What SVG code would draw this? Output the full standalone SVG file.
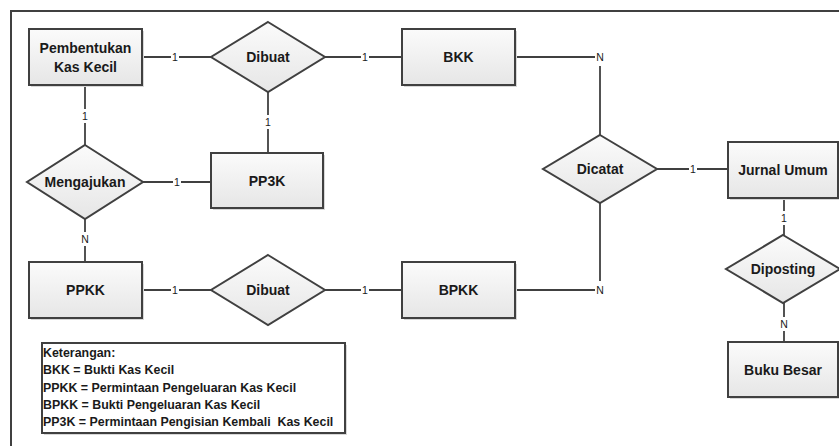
<svg xmlns="http://www.w3.org/2000/svg" width="839" height="446" viewBox="0 0 839 446">
  <defs>
    <linearGradient id="fillGrad" x1="0" y1="0" x2="0" y2="1">
      <stop offset="0" stop-color="#fbfbfb"/>
      <stop offset="1" stop-color="#e6e6e6"/>
    </linearGradient>
    <style>
      .ent { fill: url(#fillGrad); stroke: #404040; stroke-width: 2; }
      .rel { fill: url(#fillGrad); stroke: #404040; stroke-width: 2; stroke-linejoin: miter; }
      .shadow { fill: #d8d8d8; stroke: none; }
      .lbl { font-family: "Liberation Sans", Arial, sans-serif; font-weight: bold; font-size: 14px; fill: #1a1a1a; text-anchor: middle; }
      .conn { fill: none; stroke: #404040; stroke-width: 1.8; }
      .gap { fill: #ffffff; stroke: none; }
      .card { font-family: "Liberation Sans", Arial, sans-serif; font-size: 10.5px; fill: #1a1a1a; text-anchor: middle; }
      .legend { font-family: "Liberation Sans", Arial, sans-serif; font-weight: bold; font-size: 12.4px; fill: #1a1a1a; white-space: pre; }
    </style>
  </defs>

  <rect width="839" height="446" fill="#ffffff"/>

  <!-- outer frame -->
  <rect x="11" y="11" width="850" height="460" fill="none" stroke="#404040" stroke-width="2"/>

  <!-- connectors -->
  <g id="connectors">
    <line class="conn" x1="142" y1="57" x2="211" y2="57"/>
    <line class="conn" x1="325" y1="57" x2="402" y2="57"/>
    <polyline class="conn" points="515,57 600,57 600,135"/>
    <line class="conn" x1="657" y1="169" x2="728" y2="169"/>
    <line class="conn" x1="784" y1="198" x2="784" y2="235"/>
    <line class="conn" x1="784" y1="303" x2="784" y2="342"/>
    <polyline class="conn" points="515,290 600,290 600,203"/>
    <line class="conn" x1="142" y1="290" x2="211" y2="290"/>
    <line class="conn" x1="325" y1="290" x2="402" y2="290"/>
    <line class="conn" x1="85" y1="85" x2="85" y2="145"/>
    <line class="conn" x1="85" y1="219" x2="85" y2="262"/>
    <line class="conn" x1="143" y1="182" x2="211" y2="182"/>
    <line class="conn" x1="268" y1="92" x2="268" y2="153"/>

    <!-- cardinality labels on white gaps -->
    <rect class="gap" x="171" y="50" width="8" height="14"/>
    <text class="card" x="175" y="60.8">1</text>
    <rect class="gap" x="361" y="50" width="8" height="14"/>
    <text class="card" x="365" y="60.8">1</text>
    <rect class="gap" x="595" y="50" width="10" height="16"/>
    <text class="card" x="600" y="60.8">N</text>
    <rect class="gap" x="689" y="162" width="8" height="14"/>
    <text class="card" x="693" y="172.8">1</text>
    <rect class="gap" x="778" y="211" width="12" height="14"/>
    <text class="card" x="784" y="221.8">1</text>
    <rect class="gap" x="778" y="317" width="12" height="14"/>
    <text class="card" x="784" y="327.8">N</text>
    <rect class="gap" x="595" y="281" width="10" height="16"/>
    <text class="card" x="600" y="293.8">N</text>
    <rect class="gap" x="171" y="283" width="8" height="14"/>
    <text class="card" x="175" y="293.8">1</text>
    <rect class="gap" x="361" y="283" width="8" height="14"/>
    <text class="card" x="365" y="293.8">1</text>
    <rect class="gap" x="79" y="109" width="12" height="14"/>
    <text class="card" x="85" y="119.8">1</text>
    <rect class="gap" x="79" y="232" width="12" height="14"/>
    <text class="card" x="85" y="242.8">N</text>
    <rect class="gap" x="173" y="175" width="8" height="14"/>
    <text class="card" x="177" y="185.8">1</text>
    <rect class="gap" x="262" y="115" width="12" height="14"/>
    <text class="card" x="268" y="125.8">1</text>
  </g>

  <!-- entities -->
  <g id="pembentukan">
    <rect class="shadow" x="31" y="31" width="113" height="56"/>
    <rect class="ent" x="29" y="29" width="113" height="56"/>
    <text class="lbl" x="85.5" y="53.3">Pembentukan</text>
    <text class="lbl" x="85.5" y="71.7">Kas Kecil</text>
  </g>
  <g id="bkk">
    <rect class="shadow" x="404" y="31" width="113" height="56"/>
    <rect class="ent" x="402" y="29" width="113" height="56"/>
    <text class="lbl" x="458.5" y="62">BKK</text>
  </g>
  <g id="pp3k">
    <rect class="shadow" x="213" y="155" width="112" height="55"/>
    <rect class="ent" x="211" y="153" width="112" height="55"/>
    <text class="lbl" x="267" y="185.5">PP3K</text>
  </g>
  <g id="jurnal-umum">
    <rect class="shadow" x="730" y="144" width="110" height="56"/>
    <rect class="ent" x="728" y="142" width="110" height="56"/>
    <text class="lbl" x="783" y="175">Jurnal Umum</text>
  </g>
  <g id="ppkk">
    <rect class="shadow" x="31" y="264" width="113" height="56"/>
    <rect class="ent" x="29" y="262" width="113" height="56"/>
    <text class="lbl" x="85.5" y="295">PPKK</text>
  </g>
  <g id="bpkk">
    <rect class="shadow" x="404" y="264" width="113" height="56"/>
    <rect class="ent" x="402" y="262" width="113" height="56"/>
    <text class="lbl" x="458.5" y="295">BPKK</text>
  </g>
  <g id="buku-besar">
    <rect class="shadow" x="730" y="344" width="110" height="55"/>
    <rect class="ent" x="728" y="342" width="110" height="55"/>
    <text class="lbl" x="783" y="375">Buku Besar</text>
  </g>

  <!-- relationships -->
  <g id="dibuat-atas">
    <polygon class="rel" points="268,22 325,57 268,92 211,57"/>
    <text class="lbl" x="268" y="62">Dibuat</text>
  </g>
  <g id="mengajukan">
    <polygon class="rel" points="85,145 143,182 85,219 27,182"/>
    <text class="lbl" x="85" y="187">Mengajukan</text>
  </g>
  <g id="dicatat">
    <polygon class="rel" points="600,135 657,169 600,203 543,169"/>
    <text class="lbl" x="600" y="174">Dicatat</text>
  </g>
  <g id="dibuat-bawah">
    <polygon class="rel" points="268,255 325,290 268,325 211,290"/>
    <text class="lbl" x="268" y="295">Dibuat</text>
  </g>
  <g id="diposting">
    <polygon class="rel" points="783,235 840,269 783,303 726,269"/>
    <text class="lbl" x="783" y="274">Diposting</text>
  </g>

  <!-- legend -->
  <g id="keterangan">
    <rect class="shadow" x="44" y="345" width="303" height="90"/>
    <rect x="42" y="343" width="303" height="90" fill="#ffffff" stroke="#404040" stroke-width="2"/>
    <text class="legend" x="43" y="357">Keterangan:</text>
    <text class="legend" x="43" y="374">BKK = Bukti Kas Kecil</text>
    <text class="legend" x="43" y="391.5">PPKK = Permintaan Pengeluaran Kas Kecil</text>
    <text class="legend" x="43" y="408.5">BPKK = Bukti Pengeluaran Kas Kecil</text>
    <text class="legend" x="43" y="425.5">PP3K = Permintaan Pengisian Kembali  Kas Kecil</text>
  </g>
</svg>
